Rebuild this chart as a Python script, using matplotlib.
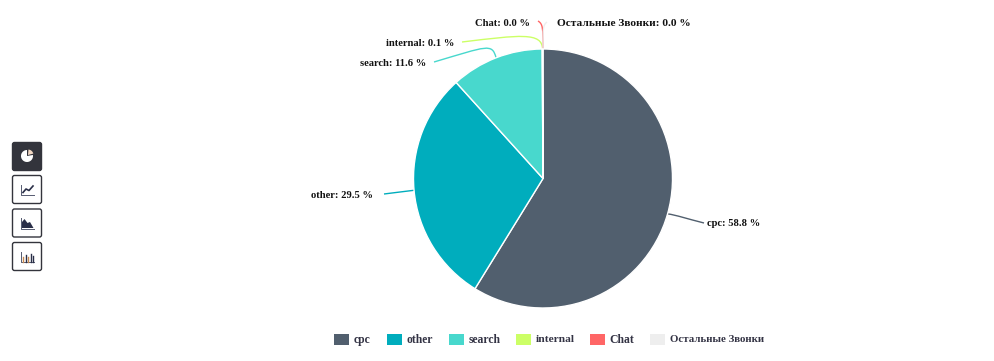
import numpy as np
import matplotlib
matplotlib.use("Agg")
import matplotlib.pyplot as plt
from matplotlib.patches import FancyBboxPatch, PathPatch, Rectangle, Wedge, Polygon
from matplotlib.path import Path

categories = ["cpc", "other", "search", "internal", "Chat", "Остальные Звонки"]
values = [58.8, 29.5, 11.6, 0.1, 0.0, 0.0]
colors = ["#515F6E", "#00ADBD", "#48D8CD", "#CCFF66", "#FF6666", "#EEEEEE"]

W, H = 994, 361
plt.rcParams["font.family"] = ["Liberation Serif", "DejaVu Serif"]
plt.rcParams["font.weight"] = "bold"
fig = plt.figure(figsize=(W / 100, H / 100), dpi=100)
ax = fig.add_axes([0, 0, 1, 1])
ax.set_xlim(0, W)
ax.set_ylim(H, 0)
ax.axis("off")

# Pie (pixel coordinates; y axis points downward, so increasing theta runs clockwise)
cx, cy, R = 543, 178.5, 129.5
start = -90.0
total = sum(values)
for v, c in zip(values, colors):
    sweep = v / total * 360
    if sweep > 0:
        ax.add_patch(Wedge((cx, cy), R, start, start + sweep, facecolor=c,
                           edgecolor="white", linewidth=1.0, zorder=2))
    start += sweep

# Leader lines: control, control, end, label anchor, alignment, label size
leaders = {
    "cpc": ((676, 215), (688, 219), (704, 223), (707, 223.5), "left", 7.6),
    "other": ((400, 192), (392, 193), (384, 194), (373, 195.5), "right", 7.6),
    "search": ((492, 43), (488, 46), (434, 62), (426, 64), "right", 7.6),
    "internal": ((542, 32), (520, 35), (462, 42), (454, 44), "right", 7.6),
    "Chat": ((543, 28), (543, 24), (538, 21), (530, 23.5), "right", 7.6),
    "Остальные Звонки": ((543, 28), (543, 25), (547, 22), (557, 23.5), "left", 8.2),
}
cum = 0.0
for name, v, c in zip(categories, values, colors):
    mid = (cum + v / 2) / total * 2 * np.pi
    cum += v
    p0 = (cx + R * np.sin(mid), cy - R * np.cos(mid))
    c1, c2, end, tpos, ha, fs = leaders[name]
    path = Path([p0, c1, c2, end], [Path.MOVETO, Path.CURVE4, Path.CURVE4, Path.CURVE4])
    ax.add_patch(PathPatch(path, fill=False, edgecolor=c, linewidth=1.0, zorder=1))
    ax.text(tpos[0], tpos[1], f"{name}: {v:.1f} %", ha=ha, va="center",
            fontsize=fs, color="#111111", zorder=3)

# Legend
swatch_x = [334, 387, 449, 516, 590, 650]
legend_fs = [8.4, 8.4, 8.4, 8.2, 8.4, 7.8]
for x, name, c, fs in zip(swatch_x, categories, colors, legend_fs):
    ax.add_patch(Rectangle((x, 334), 15, 11, facecolor=c, edgecolor="none"))
    ax.text(x + 19.5, 340, name, ha="left", va="center", fontsize=fs, color="#333344")

# Toolbar buttons
dark = "#33343C"
tops = [142.5, 175.5, 209, 242.5]
for i, t in enumerate(tops):
    ax.add_patch(FancyBboxPatch((12.5, t), 29, 28, boxstyle="round,pad=0,rounding_size=2",
                                facecolor=dark if i == 0 else "white",
                                edgecolor=dark, linewidth=1.0))
# pie icon
ax.add_patch(Wedge((27, 156), 6, -10, 270, facecolor="white", edgecolor="none"))
ax.add_patch(Wedge((28, 155), 5.5, -85, -15, facecolor="#F3D9C4", edgecolor="none"))
# axes of the small chart icons
for t in tops[1:]:
    ax.plot([21, 21, 34], [t + 9, t + 19.5, t + 19.5], color="#555A70", lw=0.7)
ax.plot([23, 26, 29, 33], [tops[1] + 17, tops[1] + 13.5, tops[1] + 15, tops[1] + 10.5],
        color="#2A2F48", lw=1.2)
ax.add_patch(Polygon([(22, tops[2] + 19), (22, tops[2] + 13), (24.5, tops[2] + 10), (27.5, tops[2] + 14),
                      (30, tops[2] + 13), (33.5, tops[2] + 19)], facecolor="#2A2F48", edgecolor="none"))
for x, h, c in zip([23, 25.5, 28, 30.5, 33], [5, 7, 4.5, 8, 6],
                   ["#C98A50", "#2A2F48", "#C98A50", "#2A2F48", "#2A2F48"]):
    ax.plot([x, x], [tops[3] + 19, tops[3] + 19 - h], color=c, lw=1.0)

fig.savefig("out.png", dpi=100)
